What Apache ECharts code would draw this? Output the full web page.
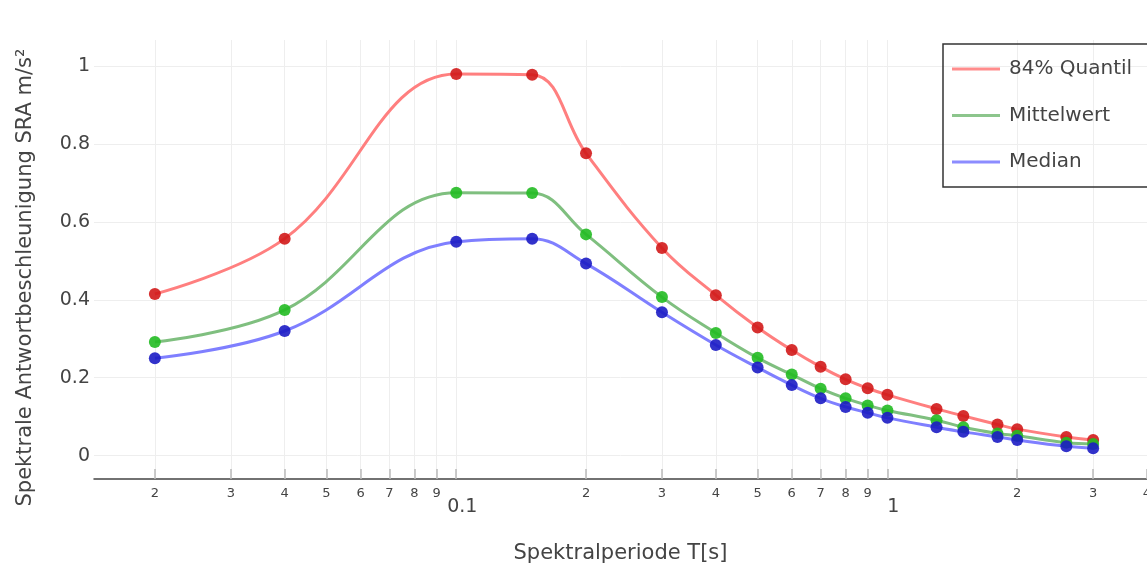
<!DOCTYPE html>
<html>
<head>
<meta charset="utf-8">
<script src="https://cdn.jsdelivr.net/npm/echarts@6/dist/echarts.min.js"></script>
<style>
  html, body { margin: 0; padding: 0; background: #fff; }
  #container { width: 1147px; height: 565px; }
</style>
</head>
<body>
<div id="container"></div>
<script>
// Spektralperioden T[s]
var periods = [0.02, 0.04, 0.1, 0.15, 0.2, 0.3, 0.4, 0.5, 0.6, 0.7, 0.8, 0.9, 1.0, 1.3, 1.5, 1.8, 2.0, 2.6, 3.0];
var quantil84 = [0.415, 0.557, 0.980, 0.978, 0.776, 0.533, 0.412, 0.329, 0.271, 0.228, 0.196, 0.173, 0.156, 0.120, 0.102, 0.080, 0.068, 0.048, 0.040];
var mittelwert = [0.292, 0.374, 0.675, 0.674, 0.568, 0.407, 0.315, 0.251, 0.208, 0.172, 0.147, 0.129, 0.116, 0.091, 0.073, 0.057, 0.051, 0.033, 0.030];
var median = [0.250, 0.320, 0.549, 0.557, 0.493, 0.368, 0.284, 0.226, 0.181, 0.147, 0.125, 0.110, 0.097, 0.073, 0.061, 0.048, 0.040, 0.024, 0.019];

// Achsenbeschriftung
var minorTicks = [0.02, 0.03, 0.04, 0.05, 0.06, 0.07, 0.08, 0.09, 0.2, 0.3, 0.4, 0.5, 0.6, 0.7, 0.8, 0.9, 2, 3, 4];
var majorTicks = [0.1, 1];
var yTicks = [0, 0.2, 0.4, 0.6, 0.8, 1];

var font = 'DejaVu Sans';
var textColor = '#444';
var xMin = 0.01445, xMax = 4.0;

function pairs(ys) {
    return periods.map(function (t, i) { return [t, ys[i]]; });
}

function makeSeries(name, ys, lineColor, dotColor) {
    return {
        name: name,
        type: 'line',
        data: pairs(ys),
        smooth: 0.4,
        symbol: 'circle',
        symbolSize: 12,
        lineStyle: { color: lineColor, width: 3 },
        itemStyle: { color: dotColor, opacity: 0.9 },
        emphasis: { disabled: true }
    };
}

var chart = echarts.init(document.getElementById('container'));
chart.setOption({
    animation: false,
    backgroundColor: '#fff',
    grid: {
        left: 94, right: 0, top: 40, bottom: 86,
        outerBoundsMode: 'none'
    },
    legend: {
        orient: 'vertical',
        left: 943,
        top: 44,
        padding: [15, 90, 15, 9],
        borderColor: '#333',
        borderWidth: 1.5,
        itemWidth: 48,
        itemHeight: 3,
        itemGap: 26.5,
        textStyle: { fontFamily: font, fontSize: 20, color: textColor, padding: [0, 0, 0, 4] },
        data: [
            { name: '84% Quantil', icon: 'rect', itemStyle: { color: '#ff7f7f' } },
            { name: 'Mittelwert', icon: 'rect', itemStyle: { color: '#7fbf7f' } },
            { name: 'Median', icon: 'rect', itemStyle: { color: '#7f7fff' } }
        ]
    },
    xAxis: [{
        type: 'log',
        logBase: 10,
        min: xMin,
        max: xMax,
        name: 'Spektralperiode T[s]',
        nameLocation: 'middle',
        nameGap: 64,
        nameTextStyle: { fontFamily: font, fontSize: 21, color: textColor },
        axisLine: { show: true, onZero: false, lineStyle: { color: '#444', width: 1.5 } },
        axisTick: {
            show: true, inside: true, length: 10,
            lineStyle: { color: '#bbb', width: 1.5 },
            customValues: minorTicks.concat(majorTicks)
        },
        axisLabel: {
            customValues: minorTicks,
            margin: 8,
            fontFamily: font, fontSize: 13, color: textColor,
            formatter: function (v) {
                var s = String(v);
                return s.replace(/0\.0*/, '').charAt(0);
            }
        },
        splitLine: { show: true, lineStyle: { color: '#eee', width: 1 } }
    }, {
        type: 'log',
        logBase: 10,
        min: xMin,
        max: xMax,
        position: 'bottom',
        axisLine: { show: false, onZero: false },
        axisTick: { show: false, customValues: majorTicks },
        splitLine: { show: false },
        axisLabel: {
            customValues: majorTicks,
            margin: 19,
            fontFamily: font, fontSize: 19, color: textColor,
            padding: [0, 0, 0, 12],
            formatter: function (v) { return String(v); }
        }
    }],
    yAxis: {
        type: 'value',
        min: -0.06,
        max: 1.067,
        name: 'Spektrale Antwortbeschleunigung SRA m/s²',
        nameLocation: 'middle',
        nameRotate: 90,
        nameGap: 58,
        nameTextStyle: { fontFamily: font, fontSize: 21, color: textColor, padding: [0, 36, 0, 0] },
        axisLine: { show: false },
        axisTick: { show: false, customValues: yTicks },
        axisLabel: {
            customValues: yTicks,
            margin: 4,
            fontFamily: font, fontSize: 19, color: textColor,
            formatter: function (v) { return String(v); }
        },
        splitLine: { show: true, lineStyle: { color: '#eee', width: 1 } }
    },
    series: [
        makeSeries('84% Quantil', quantil84, '#ff7f7f', '#d11a1a'),
        makeSeries('Mittelwert', mittelwert, '#7fbf7f', '#22bb22'),
        makeSeries('Median', median, '#7f7fff', '#1c1cc4')
    ]
});
</script>
</body>
</html>
